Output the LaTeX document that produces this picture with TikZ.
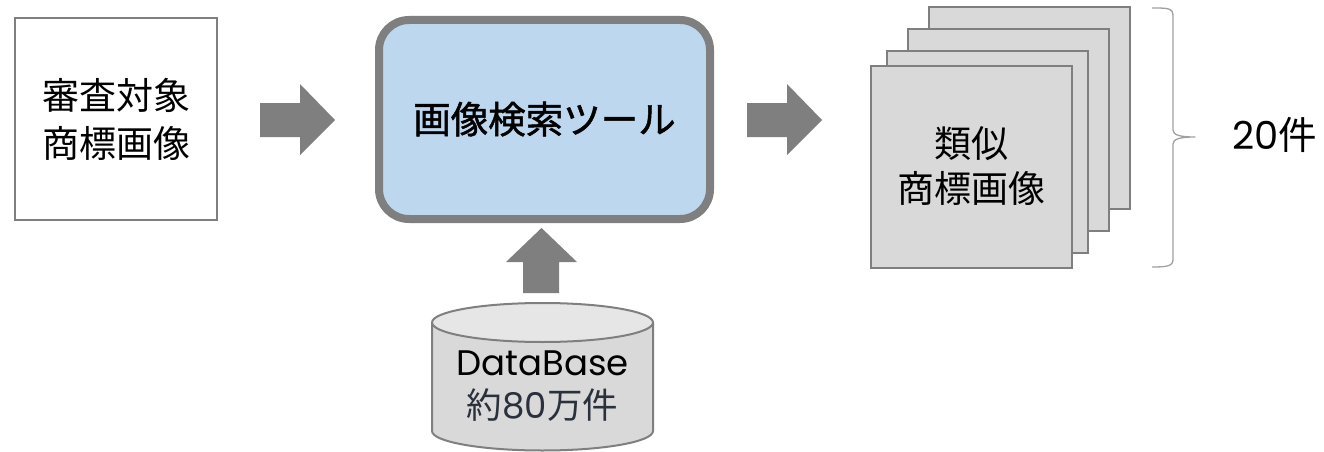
\documentclass[tikz,border=0pt]{standalone}
\usepackage{fontspec}
\setmainfont{Noto Sans CJK JP}
\newfontfamily\lat{Poppins}
\newfontfamily\medcjk[FakeBold=1.3]{Noto Sans CJK JP}
\usetikzlibrary{positioning}
\definecolor{edgegray}{HTML}{7F7F7F}
\definecolor{toolblue}{HTML}{BDD7EE}
\definecolor{cardgray}{HTML}{D9D9D9}
\definecolor{cyltop}{HTML}{E6E6E6}
\definecolor{dbtext}{HTML}{2A313D}
\definecolor{bracegray}{HTML}{A0A0A0}
\tikzset{
  plainbox/.style={draw=edgegray, line width=2pt, fill=white, minimum width=202pt, minimum height=202pt, inner sep=0pt, align=center, font=\fontsize{37}{46}\selectfont},
  toolbox/.style={draw=edgegray, line width=8pt, fill=toolblue, rounded corners=30pt, minimum width=331pt, minimum height=199pt, inner sep=0pt, align=center, font=\fontsize{37.5}{46}\selectfont\medcjk},
  card/.style={draw=edgegray, line width=2pt, fill=cardgray, minimum width=201pt, minimum height=202pt, inner sep=0pt, align=center, font=\fontsize{37}{45}\selectfont},
  blockarrow/.style={fill=edgegray, draw=none},
  cylline/.style={draw=edgegray, line width=2pt},
}
\begin{document}
\begin{tikzpicture}[x=1pt, y=-1pt]
\useasboundingbox (0,0) rectangle (1324,452);

% input box
\node[plainbox] (input) at (116,119) {\raisebox{2pt}{審査対象}\\商標画像};

% tool box
\node[toolbox] (tool) at (544.5,119.5) {\raisebox{4pt}{画像検索ツール}};

% stacked result cards
\node[card] (c4) at (1029,108) {};
\node[card] (c3) at (1008,130) {};
\node[card] (c2) at (987,152) {};
\node[card] (c1) at (971.5,166.5) {類似\\商標画像};

% brace
\coordinate (bt) at (1152,8);
\coordinate (bb) at (1152,267);
\coordinate (btip) at (1195,137);
\draw[bracegray, line width=1.3pt, line join=round]
  (bt) .. controls (1168,8) and (1173,8) .. (1173,16)
  -- (1173,130) .. controls (1173,135) and (1180,137) .. (btip)
  .. controls (1180,137) and (1173,139) .. (1173,144)
  -- (1173,259) .. controls (1173,266) and (1168,267) .. (bb);
\node[font=\fontsize{38.5}{44}\selectfont, anchor=west, inner sep=0pt] (count) at (1232,135) {{\lat 20}件};

% database cylinder
\coordinate (cyltc) at (542.5,322.5);
\coordinate (cylbc) at (542.5,431);
\path[fill=cardgray] (432,322.5) -- (432,431) arc[start angle=180, end angle=360, x radius=110.5pt, y radius=19.5pt] -- (653,322.5) -- cycle;
\draw[cylline] (432,322.5) -- (432,431) arc[start angle=180, end angle=360, x radius=110.5pt, y radius=19.5pt] -- (653,322.5);
\draw[cylline, fill=cyltop] (cyltc) ellipse[x radius=110.5pt, y radius=19.5pt];
\node[align=center, font=\fontsize{35.5}{43}\selectfont, inner sep=0pt] (db) at (542.5,386) {{\lat DataBase}\\\color{dbtext}約{\lat 80}万件};

% block arrows
\path[blockarrow] (260,103) -- (300,103) -- (300,84) -- (335,120) -- (300,155) -- (300,137) -- (260,137) -- cycle;
\path[blockarrow] (747,103) -- (787,103) -- (787,84) -- (822,120) -- (787,155) -- (787,137) -- (747,137) -- cycle;
\path[blockarrow] (523,293) -- (523,262) -- (506,262) -- (541.5,228) -- (577,262) -- (559,262) -- (559,293) -- cycle;
\end{tikzpicture}
\end{document}
